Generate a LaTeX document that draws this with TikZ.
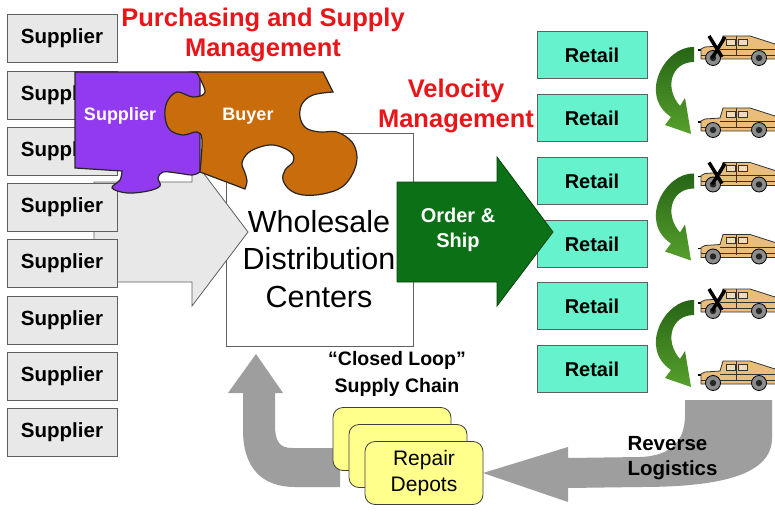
\documentclass[tikz,border=0pt]{standalone}
\usepackage{fontspec}
\setmainfont{Liberation Sans}
\usepackage{xcolor}

\definecolor{boxgray}{RGB}{232,232,232}
\definecolor{edgegray}{RGB}{95,95,95}
\definecolor{retailaqua}{RGB}{102,242,204}
\definecolor{mgmtred}{RGB}{232,22,26}
\definecolor{shipgreen}{RGB}{12,112,22}
\definecolor{curvegreenA}{RGB}{38,100,22}
\definecolor{curvegreenB}{RGB}{86,160,44}
\definecolor{loopgray}{RGB}{158,158,158}
\definecolor{depotyellow}{RGB}{255,255,140}
\definecolor{piecepurple}{RGB}{145,58,240}
\definecolor{pieceorange}{RGB}{200,108,12}
\definecolor{humveetan}{RGB}{232,190,122}

\newcommand{\fsz}[2]{\fontsize{#1}{#2}\selectfont}

% one vehicle, origin at the front wheel centre line
\newcommand{\humvee}{%
    \draw[line width=1.2pt] (0,-7) -- (5,-7);
    \filldraw[fill=humveetan, draw=black!80, line width=0.8pt] (3,2) -- (3,-8) -- (7,-10) -- (22,-11) -- (25,-21) -- (52,-21) -- (77,-13) -- (79,-9) -- (79,2) -- cycle;
    \filldraw[fill=humveetan!55!white, draw=black!80, line width=0.7pt] (28,-18) rectangle (37,-12) (40,-18) rectangle (49,-12);
    \draw[black!80, line width=0.7pt] (38,-21) -- (38,-1) (22,-8) -- (77,-8) (3,-2) -- (79,-2);
    \filldraw[fill=black!45, draw=black, line width=0.8pt] (15,1) circle (7.5pt) (61,1) circle (7.5pt);
    \fill[black!85] (15,1) circle (3.2pt) (61,1) circle (3.2pt);
}
\newcommand{\crossout}{%
    \draw[line width=3.5pt] (11,-21) -- (24,0) (27,-20) -- (14,1);
}

\begin{document}
\begin{tikzpicture}[x=1pt, y=-1pt,
    supplierbox/.style={draw=edgegray, fill=boxgray, line width=0.8pt, minimum width=110pt, minimum height=48pt, font=\bfseries\fsz{20.5}{24}},
    retailbox/.style={draw=edgegray, fill=retailaqua, line width=0.8pt, minimum width=110pt, minimum height=47pt, font=\bfseries\fsz{20}{24}},
    depotbox/.style={draw=black!75, fill=depotyellow, line width=0.8pt, rounded corners=10pt, minimum width=118pt, minimum height=63pt},
    redtitle/.style={text=mgmtred, align=center, font=\bfseries\fsz{25.5}{30.5}},
    blacktitle/.style={align=center, font=\bfseries\fsz{19.5}{27}},
    piecetext/.style={text=white, font=\bfseries\fsz{18}{22}}]

        \useasboundingbox (0,0) rectangle (775,513);
        \fill[white] (0,0) rectangle (775,513);
        \clip (0,0) rectangle (775,513);

        \node[draw=edgegray, fill=white, line width=0.8pt, minimum width=187pt, minimum height=213pt] (wdc) at (319.5,239.5) {};

        % inbound arrow from the suppliers
        \filldraw[fill=black!9, draw=edgegray, line width=0.8pt] (94,182) -- (192,182) -- (192,158) -- (248,232) -- (192,306) -- (192,282) -- (94,282) -- cycle;

        \node[align=center, font=\fsz{30.5}{37.5}] (wdctext) at (319,259) {Wholesale\\Distribution\\Centers};

        \node[supplierbox] (sup1) at (62,38.5) {Supplier};
        \node[supplierbox] (sup2) at (62,95) {Supplier};
        \node[supplierbox] (sup3) at (62,151) {Supplier};
        \node[supplierbox] (sup4) at (62,207.5) {Supplier};
        \node[supplierbox] (sup5) at (62,263.5) {Supplier};
        \node[supplierbox] (sup6) at (62,320) {Supplier};
        \node[supplierbox] (sup7) at (62,376) {Supplier};
        \node[supplierbox] (sup8) at (62,432) {Supplier};

        % puzzle pieces
        \filldraw[fill=piecepurple, draw=black!85, line width=1.2pt] (75,72) -- (200,72) -- (200,172) -- plot[smooth, tension=0.6] coordinates {(200,172) (192,175) (177,173) (163,172) (158,178) (160,186) (148,191) (127,193) (112,188) (120,180) (122,171)} -- (75,168) -- cycle;
        \filldraw[fill=pieceorange, draw=black!85, line width=1.2pt] (193,72) -- (323,72) -- (333,92) -- plot[smooth, tension=0.6] coordinates {(333,92) (313,95) (302,104) (300,117) (306,128) (320,132) (337,132) (352,142) (357,157) (353,173) (342,187) (323,194) (303,195) (290,190) (283,180) (285,170) (293,162) (293,155) (286,149) (273,145) (260,147) (248,153) (242,163) (245,173) (247,181) (245,189)} -- (200,172) -- plot[smooth, tension=0.6] coordinates {(200,172) (202,140) (197,132) (183,135) (170,130) (165,117) (167,102) (177,92) (193,97) (205,92) (197,73)} -- cycle;
        \node[piecetext] (suppiece) at (120,116) {Supplier};
        \node[piecetext] (buypiece) at (248,116) {Buyer};

        \node[redtitle] (purchasing) at (263,35) {Purchasing and Supply\\Management};
        \node[redtitle] (velocity) at (456,106) {Velocity\\Management};

        \node[retailbox] (ret1) at (592,55) {Retail};
        \node[retailbox] (ret2) at (592,118) {Retail};
        \node[retailbox] (ret3) at (592,181) {Retail};
        \node[retailbox] (ret4) at (592,244) {Retail};
        \node[retailbox] (ret5) at (592,306) {Retail};
        \node[retailbox] (ret6) at (592,369) {Retail};

        % order and ship arrow
        \filldraw[fill=shipgreen, draw=shipgreen!60!black, line width=0.8pt] (397,182) -- (497,182) -- (497,157) -- (553,232) -- (497,306) -- (497,282) -- (397,282) -- cycle;
        \node[text=white, align=center, font=\bfseries\fsz{20}{25}] (ordership) at (458,230) {Order \&\\Ship};

        % vehicles swapped out, three pairs
        \begin{scope}[shift={(0,0)}]
            \shade[top color=curvegreenA, bottom color=curvegreenB] (694,47) .. controls (665,46) and (638,95) .. (671,117) -- (665,125) -- (691,134) -- (685,98) -- (680,106) .. controls (664,88) and (671,62) .. (694,62) -- cycle;
            \begin{scope}[shift={(698,57)}] \humvee \crossout \end{scope}
            \begin{scope}[shift={(698,129)}] \humvee \end{scope}
        \end{scope}
        \begin{scope}[shift={(0,126.5)}]
            \shade[top color=curvegreenA, bottom color=curvegreenB] (694,47) .. controls (665,46) and (638,95) .. (671,117) -- (665,125) -- (691,134) -- (685,98) -- (680,106) .. controls (664,88) and (671,62) .. (694,62) -- cycle;
            \begin{scope}[shift={(698,57)}] \humvee \crossout \end{scope}
            \begin{scope}[shift={(698,129)}] \humvee \end{scope}
        \end{scope}
        \begin{scope}[shift={(0,253)}]
            \shade[top color=curvegreenA, bottom color=curvegreenB] (694,47) .. controls (665,46) and (638,95) .. (671,117) -- (665,125) -- (691,134) -- (685,98) -- (680,106) .. controls (664,88) and (671,62) .. (694,62) -- cycle;
            \begin{scope}[shift={(698,57)}] \humvee \crossout \end{scope}
            \begin{scope}[shift={(698,129)}] \humvee \end{scope}
        \end{scope}

        % return loop
        \fill[loopgray] (685,400) -- (772,400) -- (772,438) .. controls (772,475) and (720,487) .. (640,487) -- (568,488) -- (568,502) -- (483,473) -- (568,447) -- (568,458) -- (640,457) .. controls (672,456) and (685,440) .. (685,415) -- cycle;
        \fill[loopgray] (340,448) -- (292,448) .. controls (280,448) and (275,442) .. (275,425) -- (275,393) -- (283,393) -- (256,354) -- (228,393) -- (243,393) -- (243,430) .. controls (243,468) and (262,487) .. (295,487) -- (340,487) -- cycle;

        \node[depotbox] (depot3) at (392,439) {};
        \node[depotbox] (depot2) at (408,456) {};
        \node[depotbox, align=center, font=\fsz{21}{26}] (depot1) at (424,473) {Repair\\Depots};

        \node[blacktitle] (closedloop) at (397,374) {“Closed Loop”\\Supply Chain};
        \node[blacktitle, align=left, anchor=west, font=\bfseries\fsz{20.5}{25}] (reverse) at (624,458) {Reverse\\Logistics};

\end{tikzpicture}
\end{document}
